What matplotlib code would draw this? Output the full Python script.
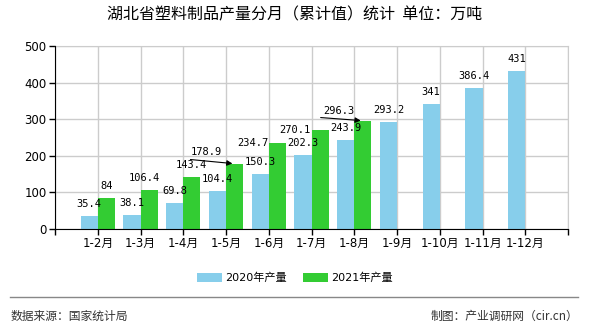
import matplotlib
matplotlib.use("Agg")
import matplotlib.pyplot as plt
import numpy as np

plt.rcParams['font.family'] = ['DejaVu Sans', 'Noto Sans CJK SC']

categories = ["1-2月", "1-3月", "1-4月", "1-5月", "1-6月", "1-7月", "1-8月",
              "1-9月", "1-10月", "1-11月", "1-12月"]
values_2020 = [35.4, 38.1, 69.8, 104.4, 150.3, 202.3, 243.9, 293.2, 341, 386.4, 431]
values_2021 = [84, 106.4, 143.4, 178.9, 234.7, 270.1, 296.3]
labels_2020 = ["35.4", "38.1", "69.8", "104.4", "150.3", "202.3", "243.9",
               "293.2", "341", "386.4", "431"]
labels_2021 = ["84", "106.4", "143.4", "178.9", "234.7", "270.1", "296.3"]
yticks = [0, 100, 200, 300, 400, 500]

c2020 = "#87CEEB"
c2021 = "#33CC33"

fig = plt.figure(figsize=(5.9, 3.3), dpi=100)
ax = fig.add_axes([55/590, 1-229/330, 513/590, 183/330])

x = np.arange(len(categories))
x21 = np.arange(len(values_2021))
w = 0.4
ax.bar(x - w/2, values_2020, width=w, color=c2020, zorder=3, label="2020年产量")
ax.bar(x21 + w/2, values_2021, width=w, color=c2021, zorder=3, label="2021年产量")

ax.set_xlim(-1, len(categories))
ax.set_ylim(0, 500)
ax.set_yticks(yticks)
ax.set_yticklabels([str(v) for v in yticks], fontsize=8.5)
ax.set_xticks(list(range(-1, len(categories) + 1)))
ax.set_xticklabels([""] + categories + [""], fontsize=8.5)
ax.tick_params(axis='both', length=4, width=1, color='black', pad=2)
ax.grid(True, color="#cccccc", linewidth=1, zorder=0)
for s in ['top', 'right']:
    ax.spines[s].set_color("#cccccc")
for s in ['left', 'bottom']:
    ax.spines[s].set_color("black")
    ax.spines[s].set_zorder(4)

mono = dict(family='DejaVu Sans Mono', fontsize=7.5, color='black')

# 2020 labels
for i, (v, t) in enumerate(zip(values_2020, labels_2020)):
    ax.annotate(t, (x[i] - w/2, v), xytext=(0, 12), textcoords='offset pixels',
                ha='center', va='center', zorder=5, **mono)

# 2021 labels with custom offsets (pixels)
offsets_2021 = [(0, 12), (-5, 12), (0, 12), (-28, 12), (-24, 0), (-25, 0), (-24, 10)]
for i, (v, t) in enumerate(zip(values_2021, labels_2021)):
    dx, dy = offsets_2021[i]
    ax.annotate(t, (x21[i] + w/2, v), xytext=(dx, dy), textcoords='offset pixels',
                ha='center', va='center', zorder=5, **mono)

# leader arrows for dragged labels
for i, (sx, sy) in [(3, (-42, 4)), (6, (-40, 3))]:
    ax.annotate("", xy=(x21[i] + w/2 - 0.05, values_2021[i]), xytext=(sx, sy),
                textcoords='offset pixels',
                arrowprops=dict(arrowstyle='-|>', color='black', lw=0.8,
                                mutation_scale=8, shrinkA=0, shrinkB=0),
                zorder=6)

fig.text(0.5, 1 - 15/330, "湖北省塑料制品产量分月（累计值）统计  单位：万吨",
         ha='center', va='center', fontsize=11.5, family=['Noto Sans CJK SC'],
         color='black')

handles, labs = ax.get_legend_handles_labels()
fig.legend(handles, labs, loc='center', bbox_to_anchor=(0.5, 1 - 278/330),
           ncol=2, frameon=False, handlelength=2.2, handleheight=0.9,
           columnspacing=1.5, handletextpad=0.3,
           prop={'family': ['DejaVu Sans', 'Noto Sans CJK SC'], 'size': 8})

fig.add_artist(plt.Line2D([10/590, 578/590], [1 - 297/330, 1 - 297/330],
                          color='#888888', linewidth=1))
fig.text(11/590, 1 - 316/330, "数据来源：国家统计局", ha='left', va='center',
         fontsize=8.5, family=['Noto Sans CJK SC'], color='#333333')
fig.text(578/590, 1 - 316/330, "制图：产业调研网（cir.cn）", ha='right', va='center',
         fontsize=8.5, family=['Noto Sans CJK SC'], color='#333333')

fig.savefig("out.png", dpi=100)
